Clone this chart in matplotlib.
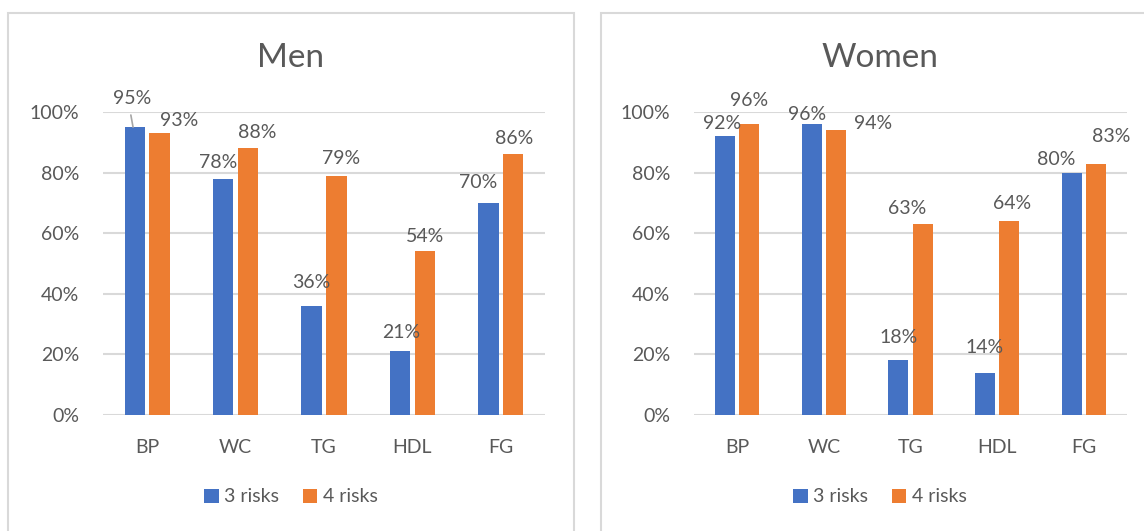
import matplotlib

matplotlib.use("Agg")
import matplotlib.pyplot as plt
from matplotlib.patches import Rectangle
from matplotlib.ticker import PercentFormatter
import numpy as np

plt.rcParams["font.family"] = ["Lato", "DejaVu Sans"]

categories = ["BP", "WC", "TG", "HDL", "FG"]
series_names = ["3 risks", "4 risks"]

men_3 = [95, 78, 36, 21, 70]
men_4 = [93, 88, 79, 54, 86]
women_3 = [92, 96, 18, 14, 80]
women_4 = [96, 94, 63, 64, 83]

# label offsets (pixels) from each bar top, as moved by hand in the original
men_off_3 = [(-3, 29), (-5, 16), (0, 23), (1, 19), (-10, 20)]
men_off_4 = [(20, 13), (9, 16), (5, 17), (0, 15), (1, 16)]
women_off_3 = [(-3, 13), (-5, 10), (0, 23), (0, 25), (-15, 13)]
women_off_4 = [(0, 24), (37, 7), (-15, 16), (3, 18), (15, 27)]

BLUE = "#4472C4"
ORANGE = "#ED7D31"
TXT = "#595959"
GRID = "#D9D9D9"

W, H = 1144, 531
fig = plt.figure(figsize=(W / 100, H / 100), dpi=100)


def px_axes(x0, x1, ytop, ybot):
    return fig.add_axes([x0 / W, 1 - ybot / H, (x1 - x0) / W, (ybot - ytop) / H])


def panel(ax, title, v3, v4, off3, off4, pleft, pright):
    fig.patches.append(Rectangle((pleft / W, -0.1), (pright - pleft) / W, 1.1 - 13 / H,
                                 transform=fig.transFigure, fill=False,
                                 edgecolor=GRID, lw=1.5))
    x = np.arange(len(categories))
    w, d = 0.23, 0.14
    b3 = ax.bar(x - d, v3, w, color=BLUE, label=series_names[0], zorder=3)
    b4 = ax.bar(x + d, v4, w, color=ORANGE, label=series_names[1], zorder=3)
    for bars, vals, offs in ((b3, v3, off3), (b4, v4, off4)):
        for b, v, (dx, dy) in zip(bars, vals, offs):
            ax.annotate(f"{v}%", (b.get_x() + b.get_width() / 2, v),
                        xytext=(dx, dy), textcoords="offset pixels",
                        ha="center", va="center", fontsize=14, color=TXT)
    ax.set_xlim(-0.5, len(categories) - 0.5)
    ax.set_ylim(0, 100)
    ax.set_yticks(range(0, 101, 20))
    ax.yaxis.set_major_formatter(PercentFormatter(decimals=0))
    ax.set_xticks(x, categories)
    ax.tick_params(length=0, labelsize=14, labelcolor=TXT)
    ax.tick_params(axis="y", pad=17)
    ax.tick_params(axis="x", pad=17)
    ax.grid(axis="y", color=GRID, lw=1.5, zorder=0)
    for s in ax.spines.values():
        s.set_visible(False)
    cx = (pleft + pright) / 2 / W
    fig.text(cx, 1 - 58 / H, title, ha="center", va="center", fontsize=24, color=TXT)
    fig.legend(handles=[b3, b4], loc="center", bbox_to_anchor=(cx, 1 - 497 / H),
               ncol=2, frameon=False, fontsize=14, labelcolor=TXT,
               handlelength=0.75, handleheight=0.75, handletextpad=0.3,
               columnspacing=1.2)


ax1 = px_axes(103, 545, 112, 415)
ax2 = px_axes(694, 1127, 112, 415)
panel(ax1, "Men", men_3, men_4, men_off_3, men_off_4, 8, 574)
panel(ax2, "Women", women_3, women_4, women_off_3, women_off_4, 601, 1159)

# leader line for the moved 95% label
ax1.annotate("", xy=(-0.16, men_3[0]), xytext=(-0.185, 99),
             arrowprops=dict(arrowstyle="-", color="#A6A6A6", lw=1.2,
                             shrinkA=0, shrinkB=0))

fig.savefig("out.png", dpi=100)
